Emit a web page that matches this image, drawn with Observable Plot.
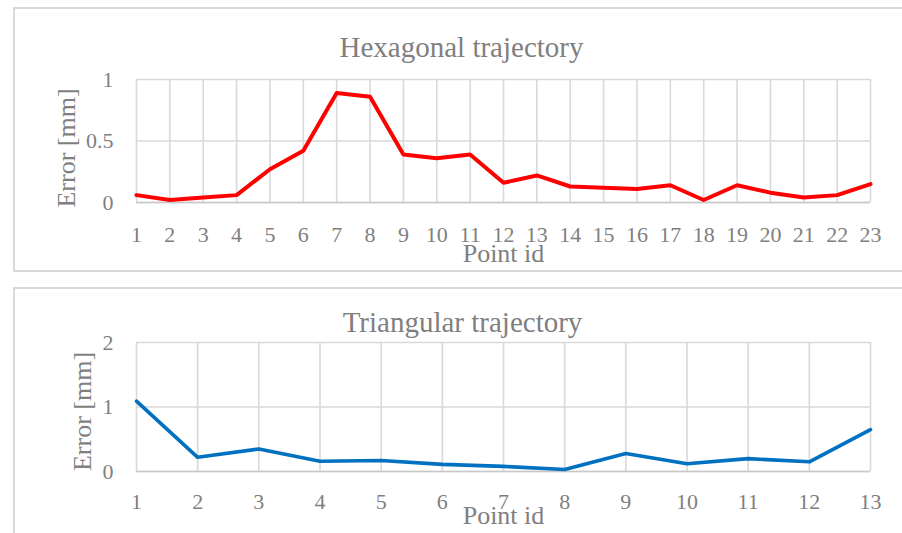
<!DOCTYPE html>
<html>
<head>
<meta charset="utf-8">
<script src="https://cdn.jsdelivr.net/npm/d3@7"></script>
<script src="https://cdn.jsdelivr.net/npm/@observablehq/plot@0.6"></script>
<style>
  html, body { margin: 0; padding: 0; background: #fff; }
  #page { position: relative; width: 902px; height: 533px; overflow: hidden; background: #fff; }
  .box { position: absolute; left: 13px; width: 900px; border: 2px solid #d9d9d9; box-sizing: border-box; }
  #box1 { top: 7px; height: 265px; }
  #box2 { top: 287px; height: 260px; }
  .chart { position: absolute; left: 0; }
  #chart1 { top: 0; }
  #chart2 { top: 280px; }
</style>
</head>
<body>
<div id="page">
  <div class="box" id="box1"></div>
  <div class="box" id="box2"></div>
  <div class="chart" id="chart1"></div>
  <div class="chart" id="chart2"></div>
</div>
<script>
// ---- data ----
const hexTitle = "Hexagonal trajectory";
const hexIds = [1,2,3,4,5,6,7,8,9,10,11,12,13,14,15,16,17,18,19,20,21,22,23];
const hexError = [0.06,0.02,0.04,0.06,0.27,0.42,0.89,0.86,0.39,0.36,0.39,0.16,0.22,0.13,0.12,0.11,0.14,0.02,0.14,0.08,0.04,0.06,0.15];
const hexYTicks = [0, 0.5, 1];

const triTitle = "Triangular trajectory";
const triIds = [1,2,3,4,5,6,7,8,9,10,11,12,13];
const triError = [1.09,0.22,0.35,0.16,0.17,0.11,0.08,0.03,0.28,0.12,0.20,0.15,0.65];
const triYTicks = [0, 1, 2];

const xLabel = "Point id";
const yLabel = "Error [mm]";

// ---- styles ----
const FONT = "'Liberation Serif', 'Times New Roman', serif";
const TEXT = "#7f7f7f";
const GRID = "#d9d9d9";

function makeChart(opts) {
  const data = opts.ids.map((id, i) => ({id, err: opts.values[i]}));
  return Plot.plot({
    width: 902,
    height: opts.height,
    marginLeft: 136,
    marginRight: 32,
    marginTop: opts.marginTop,
    marginBottom: opts.marginBottom,
    style: {fontFamily: FONT, fontSize: "22px", color: TEXT, background: "transparent", overflow: "visible"},
    x: {domain: [opts.ids[0], opts.ids[opts.ids.length - 1]], ticks: opts.ids},
    y: {domain: [opts.yTicks[0], opts.yTicks[opts.yTicks.length - 1]], ticks: opts.yTicks},
    marks: [
      Plot.gridX(opts.ids, {stroke: GRID, strokeOpacity: 1, strokeWidth: 1.6}),
      Plot.gridY(opts.yTicks, {stroke: GRID, strokeOpacity: 1, strokeWidth: 1.6}),
      Plot.ruleY([opts.yTicks[0]], {stroke: "#c8c8c8", strokeWidth: 1.6}),
      Plot.axisX(opts.ids, {tickSize: 0, tickPadding: opts.xTickPad, label: null, tickFormat: d => String(d), fill: TEXT}),
      Plot.axisY(opts.yTicks, {tickSize: 0, tickPadding: 23, label: null, tickFormat: d => String(d), fill: TEXT}),
      Plot.line(data, {x: "id", y: "err", stroke: opts.color, strokeWidth: opts.lineWidth, strokeLinejoin: "round", strokeLinecap: "round"}),
      Plot.text([opts.title], {frameAnchor: "top", lineAnchor: "middle", textAnchor: "middle", dx: opts.titleDx, dy: opts.titleDy, fontSize: 29, fill: TEXT}),
      Plot.text([xLabel], {frameAnchor: "bottom", lineAnchor: "middle", textAnchor: "middle", dx: 0, dy: opts.xLabelDy, fontSize: 26, fill: TEXT}),
      Plot.text([yLabel], {frameAnchor: "left", lineAnchor: "middle", textAnchor: "middle", rotate: -90, dx: opts.yLabelDx, dy: opts.yLabelDy, fontSize: 26, fill: TEXT})
    ]
  });
}

document.getElementById("chart1").append(makeChart({
  ids: hexIds, values: hexError, yTicks: hexYTicks, title: hexTitle,
  height: 280, marginTop: 79, marginBottom: 78,
  color: "#ff0000", lineWidth: 4,
  xTickPad: 24, titleDx: -42, titleDy: -32, xLabelDy: 51, yLabelDx: -70, yLabelDy: 7
}));

document.getElementById("chart2").append(makeChart({
  ids: triIds, values: triError, yTicks: triYTicks, title: triTitle,
  height: 253, marginTop: 62, marginBottom: 62,
  color: "#0070c0", lineWidth: 3.6,
  xTickPad: 22, titleDx: -41, titleDy: -20, xLabelDy: 44, yLabelDx: -54, yLabelDy: 4.5
}));
</script>
</body>
</html>
